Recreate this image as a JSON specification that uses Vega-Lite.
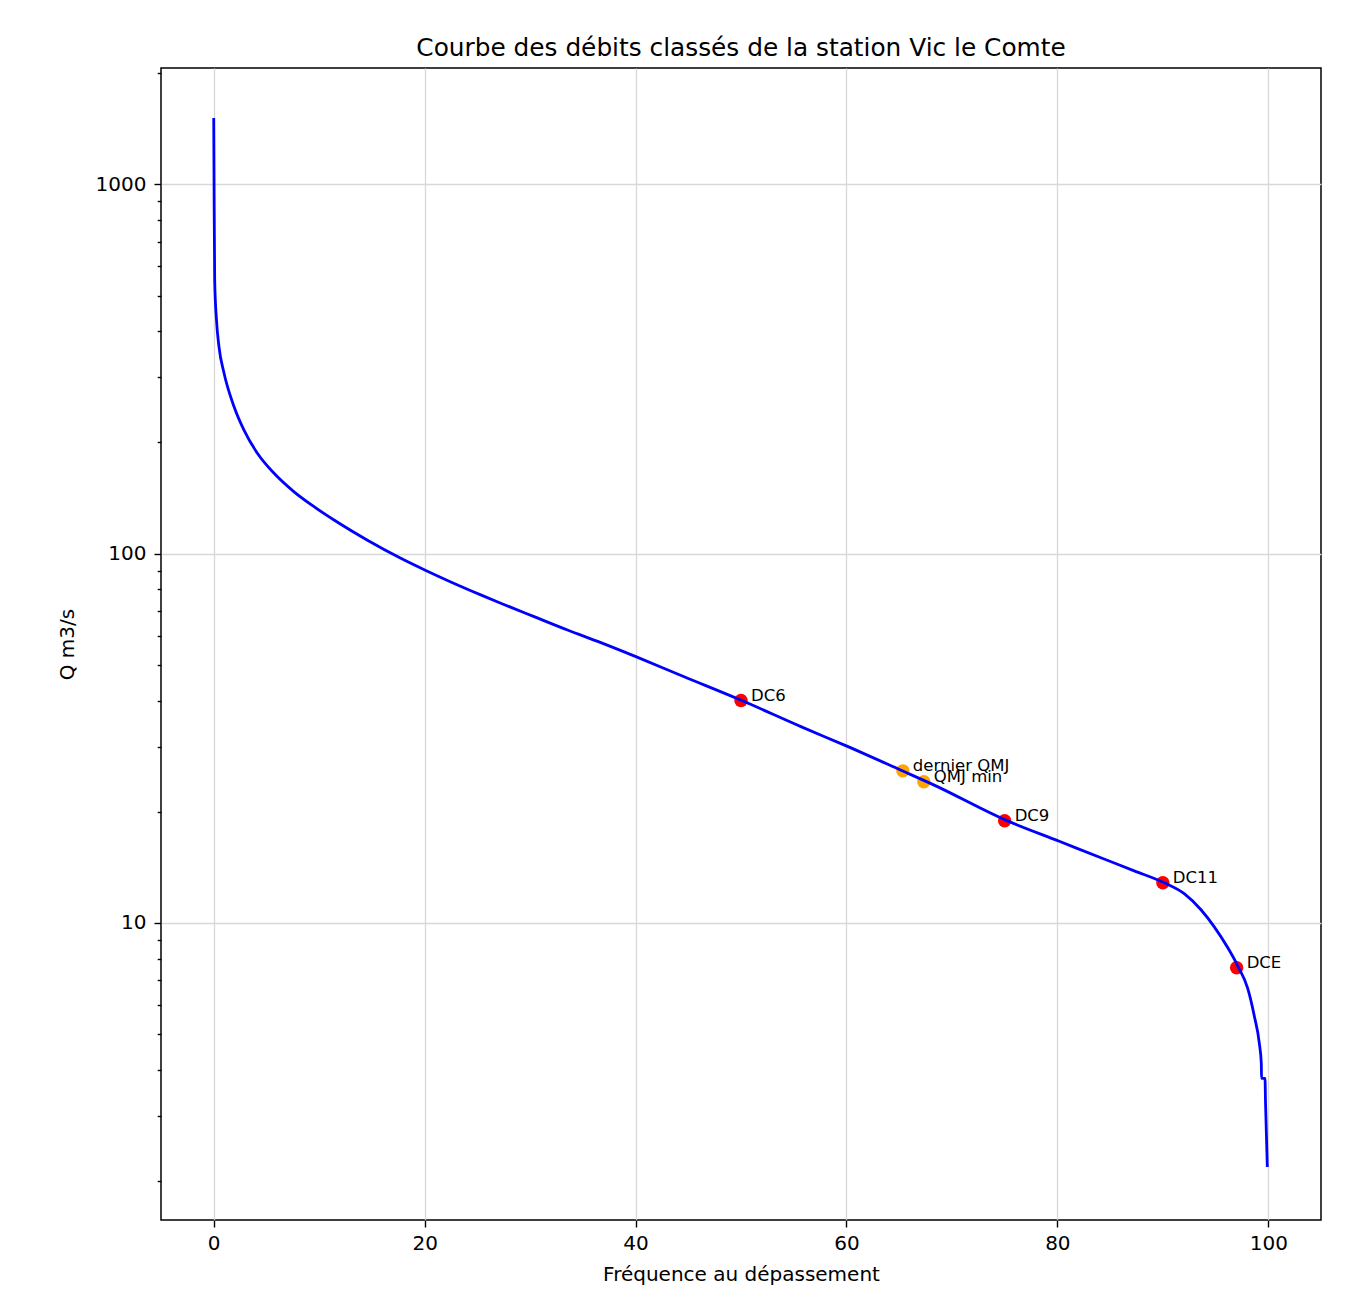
{
  "$schema": "https://vega.github.io/schema/vega-lite/v6.json",
  "autosize": "none",
  "width": 1160,
  "height": 1152,
  "padding": {"left": 161, "top": 68, "right": 41, "bottom": 80},
  "background": "white",
  "config": {
    "font": "DejaVu Sans",
    "view": {"stroke": "#000000", "strokeWidth": 1.5},
    "axis": {
      "domain": false,
      "labelFont": "DejaVu Sans",
      "titleFont": "DejaVu Sans",
      "labelFontSize": 20,
      "titleFontSize": 20,
      "labelColor": "#000000",
      "titleColor": "#000000",
      "titleFontWeight": "normal",
      "tickColor": "#000000",
      "tickWidth": 1.4,
      "gridColor": "#d8d8d8",
      "gridWidth": 1.3
    }
  },
  "title": {
    "text": "Courbe des débits classés de la station Vic le Comte",
    "font": "DejaVu Sans",
    "fontSize": 24.8,
    "fontWeight": "normal",
    "color": "#000000",
    "anchor": "middle",
    "baseline": "alphabetic",
    "offset": -13
  },
  "datasets": {
    "curve": [
      {"f": 0.0, "q": 1514},
      {"f": 0.03, "q": 1028},
      {"f": 0.09, "q": 551},
      {"f": 0.26, "q": 430},
      {"f": 0.5, "q": 363},
      {"f": 0.98, "q": 308},
      {"f": 1.93, "q": 250},
      {"f": 2.87, "q": 216},
      {"f": 4.14, "q": 187},
      {"f": 5.72, "q": 165},
      {"f": 7.62, "q": 147},
      {"f": 9.51, "q": 134},
      {"f": 11.41, "q": 123.3},
      {"f": 14.58, "q": 108.7},
      {"f": 17.74, "q": 97.1},
      {"f": 20.11, "q": 90.0},
      {"f": 22.48, "q": 83.8},
      {"f": 25.32, "q": 77.3},
      {"f": 27.22, "q": 73.4},
      {"f": 30.38, "q": 67.5},
      {"f": 33.55, "q": 62.1},
      {"f": 36.71, "q": 57.4},
      {"f": 40.03, "q": 52.6},
      {"f": 44.61, "q": 46.4},
      {"f": 50.08, "q": 40.0},
      {"f": 55.68, "q": 34.0},
      {"f": 60.04, "q": 30.1},
      {"f": 65.17, "q": 25.9},
      {"f": 68.32, "q": 23.6},
      {"f": 75.05, "q": 19.0},
      {"f": 80.18, "q": 16.63},
      {"f": 84.13, "q": 15.0},
      {"f": 87.29, "q": 13.83},
      {"f": 90.11, "q": 12.85},
      {"f": 92.03, "q": 12.0},
      {"f": 93.62, "q": 10.85},
      {"f": 94.88, "q": 9.75},
      {"f": 96.15, "q": 8.57},
      {"f": 97.1, "q": 7.65},
      {"f": 98.05, "q": 6.64},
      {"f": 98.67, "q": 5.6},
      {"f": 99.15, "q": 4.72},
      {"f": 99.34, "q": 4.16},
      {"f": 99.36, "q": 3.79},
      {"f": 99.69, "q": 3.79},
      {"f": 99.74, "q": 3.25},
      {"f": 99.91, "q": 2.18}
    ],
    "markers": [
      {"name": "DC6", "f": 50.0, "q": 40.0, "kind": "dc"},
      {"name": "dernier QMJ", "f": 65.35, "q": 25.8, "kind": "qmj"},
      {"name": "QMJ min", "f": 67.34, "q": 24.1, "kind": "qmj"},
      {"name": "DC9", "f": 75.0, "q": 18.9, "kind": "dc"},
      {"name": "DC11", "f": 90.0, "q": 12.84, "kind": "dc"},
      {"name": "DCE", "f": 97.0, "q": 7.56, "kind": "dc"}
    ]
  },
  "encoding": {
    "x": {
      "field": "f",
      "type": "quantitative",
      "scale": {"domain": [-5, 105], "nice": false, "zero": false},
      "axis": {
        "title": "Fréquence au dépassement",
        "values": [0, 20, 40, 60, 80, 100],
        "format": "d",
        "tickSize": 7,
        "labelPadding": 6,
        "titlePadding": 11,
        "grid": true
      }
    },
    "y": {
      "field": "q",
      "type": "quantitative",
      "scale": {"type": "log", "domain": [1.567, 2067], "nice": false},
      "axis": {
        "title": "Q m3/s",
        "values": [2, 3, 4, 5, 6, 7, 8, 9, 10, 20, 30, 40, 50, 60, 70, 80, 90, 100, 200, 300, 400, 500, 600, 700, 800, 900, 1000, 2000],
        "labelExpr": "(datum.value == 10 || datum.value == 100 || datum.value == 1000) ? toString(datum.value) : ''",
        "tickSize": {"condition": {"test": "datum.value == 10 || datum.value == 100 || datum.value == 1000", "value": 7}, "value": 3.8},
        "gridOpacity": {"condition": {"test": "datum.value == 10 || datum.value == 100 || datum.value == 1000", "value": 1}, "value": 0},
        "labelPadding": 8,
        "titlePadding": 18,
        "grid": true
      }
    }
  },
  "layer": [
    {
      "data": {"name": "markers"},
      "mark": {"type": "circle", "size": 180, "opacity": 1},
      "encoding": {
        "color": {
          "field": "kind",
          "type": "nominal",
          "scale": {"domain": ["dc", "qmj"], "range": ["#ff0000", "#ffa500"]},
          "legend": null
        }
      }
    },
    {
      "data": {"name": "curve"},
      "mark": {"type": "line", "color": "#0000ff", "strokeWidth": 2.8, "interpolate": "monotone"},
      "encoding": {"order": {"field": "f", "type": "quantitative"}}
    },
    {
      "data": {"name": "markers"},
      "mark": {"type": "text", "align": "left", "baseline": "alphabetic", "dx": 10, "dy": 0, "fontSize": 16.5, "font": "DejaVu Sans", "color": "#000000"},
      "encoding": {"text": {"field": "name", "type": "nominal"}}
    }
  ]
}
